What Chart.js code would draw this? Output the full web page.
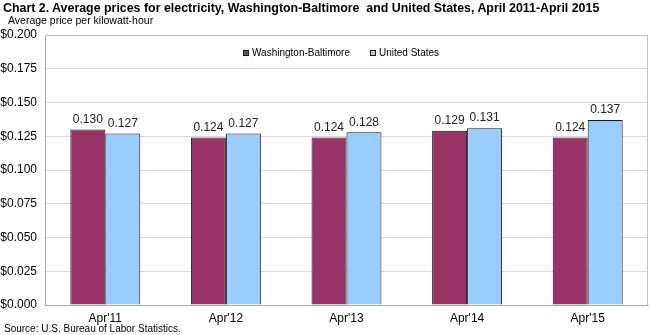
<!DOCTYPE html>
<html>
<head>
<meta charset="utf-8">
<script src="https://cdn.jsdelivr.net/npm/chart.js@4.4.0/dist/chart.umd.min.js"></script>
<style>
  html, body { margin: 0; padding: 0; background: #fff; }
  #wrap { position: relative; width: 650px; height: 335px; font-family: "Liberation Sans", Arial, sans-serif; }
  #c { position: absolute; left: 0; top: 0; }
  .t { position: absolute; white-space: pre; color: #000; }
  #title { left: 3px; top: 1px; font-size: 12.4px; font-weight: bold; }
  #ytitle { left: 8px; top: 14px; font-size: 10.5px; }
  #source { left: 4px; top: 323px; font-size: 10px; }
</style>
</head>
<body>
<div id="wrap">
  <canvas id="c" width="650" height="335"></canvas>
  <div class="t" id="title">Chart 2. Average prices for electricity, Washington-Baltimore  and United States, April 2011-April 2015</div>
  <div class="t" id="ytitle">Average price per kilowatt-hour</div>
  <div class="t" id="source">Source: U.S. Bureau of Labor Statistics.</div>
</div>
<script>
const categories = ["Apr'11", "Apr'12", "Apr'13", "Apr'14", "Apr'15"];
const washingtonBaltimore = [0.130, 0.124, 0.124, 0.129, 0.124];
const unitedStates = [0.127, 0.127, 0.128, 0.131, 0.137];
const seriesNames = ["Washington-Baltimore", "United States"];

const FONT = "'Liberation Sans', Arial, sans-serif";

const framePlugin = {
  id: 'frame',
  beforeDatasetsDraw(chart) {
    const a = chart.chartArea, ctx = chart.ctx;
    ctx.save();
    ctx.strokeStyle = '#bfbfbf';
    ctx.lineWidth = 1;
    ctx.beginPath();
    ctx.moveTo(a.left, a.top + 0.5);
    ctx.lineTo(a.right - 0.5, a.top + 0.5);
    ctx.lineTo(a.right - 0.5, a.bottom);
    ctx.stroke();
    ctx.restore();
  }
};

const legendInArea = {
  id: 'legendInArea',
  afterDraw(chart) {
    const a = chart.chartArea, ctx = chart.ctx;
    ctx.save();
    ctx.font = '10px ' + FONT;
    ctx.textBaseline = 'middle';
    ctx.textAlign = 'left';
    const box = 6, gapText = 3, gapItem = 20;
    const ds = chart.data.datasets;
    let total = 0;
    ds.forEach((d, i) => {
      total += box + gapText + ctx.measureText(d.label).width;
      if (i < ds.length - 1) total += gapItem;
    });
    let x = Math.round((a.left + a.right) / 2 - total / 2 - 5);
    const y = a.top + 18;
    ds.forEach(d => {
      ctx.fillStyle = d.backgroundColor;
      ctx.fillRect(x, y - box / 2, box, box);
      ctx.strokeStyle = '#1a1a1a';
      ctx.lineWidth = 1;
      ctx.strokeRect(x + 0.5, y - box / 2 + 0.5, box - 1, box - 1);
      ctx.fillStyle = '#000';
      ctx.fillText(d.label, x + box + gapText, y + 0.5);
      x += box + gapText + ctx.measureText(d.label).width + gapItem;
    });
    ctx.restore();
  }
};

const valueLabels = {
  id: 'valueLabels',
  afterDatasetsDraw(chart) {
    const ctx = chart.ctx;
    ctx.save();
    ctx.font = '12px ' + FONT;
    ctx.fillStyle = '#222';
    ctx.textAlign = 'center';
    ctx.textBaseline = 'bottom';
    chart.data.datasets.forEach((ds, i) => {
      chart.getDatasetMeta(i).data.forEach((bar, j) => {
        ctx.fillText(ds.data[j].toFixed(3), bar.x, bar.y - 4);
      });
    });
    ctx.restore();
  }
};

new Chart(document.getElementById('c'), {
  type: 'bar',
  data: {
    labels: categories,
    datasets: [
      { label: seriesNames[0], data: washingtonBaltimore, backgroundColor: '#993366', borderColor: '#1a1a1a', borderWidth: 1 },
      { label: seriesNames[1], data: unitedStates, backgroundColor: '#99ccff', borderColor: '#1a1a1a', borderWidth: 1 }
    ]
  },
  options: {
    responsive: false,
    animation: false,
    layout: { padding: { top: 35, right: 2, left: 0, bottom: 6 } },
    datasets: { bar: { categoryPercentage: 0.58, barPercentage: 1.0 } },
    plugins: {
      title: { display: false },
      tooltip: { enabled: false },
      legend: { display: false }
    },
    scales: {
      x: {
        grid: { display: false, drawTicks: false },
        border: { color: '#a6a6a6' },
        ticks: { color: '#000', font: { size: 12, family: FONT }, padding: 6 },
        afterFit(s) { s.height = 24; }
      },
      y: {
        min: 0, max: 0.2,
        grid: { color: '#d9d9d9', drawTicks: false },
        border: { color: '#a6a6a6' },
        ticks: {
          stepSize: 0.025,
          color: '#000',
          font: { size: 12, family: FONT },
          padding: 8,
          callback: v => '$' + Number(v).toFixed(3)
        },
        afterFit(s) { s.width = 45; }
      }
    }
  },
  plugins: [framePlugin, legendInArea, valueLabels]
});
</script>
</body>
</html>
